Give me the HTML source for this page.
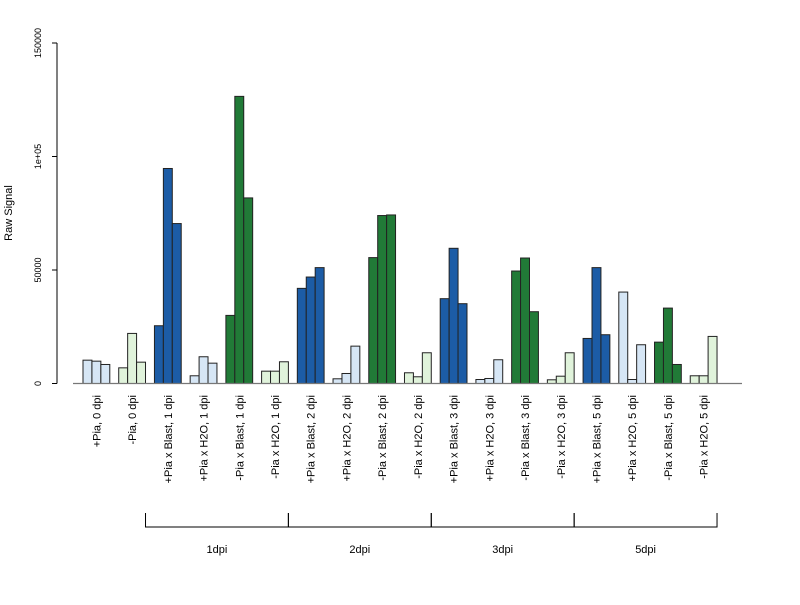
<!DOCTYPE html>
<html><head><meta charset="utf-8"><style>
body{margin:0;background:#fff}
svg{font-family:"Liberation Sans",sans-serif}
</style></head><body>
<svg id="chart" width="800" height="600" xmlns="http://www.w3.org/2000/svg"></svg>
<script>
const categories=["+Pia, 0 dpi","-Pia, 0 dpi","+Pia x Blast, 1 dpi","+Pia x H2O, 1 dpi","-Pia x Blast, 1 dpi","-Pia x H2O, 1 dpi","+Pia x Blast, 2 dpi","+Pia x H2O, 2 dpi","-Pia x Blast, 2 dpi","-Pia x H2O, 2 dpi","+Pia x Blast, 3 dpi","+Pia x H2O, 3 dpi","-Pia x Blast, 3 dpi","-Pia x H2O, 3 dpi","+Pia x Blast, 5 dpi","+Pia x H2O, 5 dpi","-Pia x Blast, 5 dpi","-Pia x H2O, 5 dpi"];
const rep1=[10280,6900,25450,3400,30000,5430,41910,2070,55460,4720,37370,1760,49550,1630,19850,40280,18220,3400];
const rep2=[9840,22060,94720,11780,126490,5430,46900,4410,73990,2960,59560,2210,55280,3220,51050,1760,33220,3400];
const rep3=[8380,9400,70460,8960,81760,9570,51050,16460,74250,13540,35160,10460,31630,13540,21490,17070,8380,20740];
const groupColors=["#d6e6f5","#e0f3db","#1c5ca6","#d6e6f5","#217a37","#e0f3db","#1c5ca6","#d6e6f5","#217a37","#e0f3db","#1c5ca6","#d6e6f5","#217a37","#e0f3db","#1c5ca6","#d6e6f5","#217a37","#e0f3db"];
const yTicks=[0,50000,100000,150000];
const yTickLabels=["0","50000","1e+05","150000"];
const timeGroups=["1dpi","2dpi","3dpi","5dpi"];

const svg=document.getElementById('chart');
const NS="http://www.w3.org/2000/svg";
const Y0=383.5, PXPER=340.5/150000;
const y=v=>Y0-v*PXPER;
const BW=8.93, X0=83;
const xBar=(g,k)=>X0+g*4*BW+k*BW;
function mk(t,a,txt){const e=document.createElementNS(NS,t);for(const k in a)e.setAttribute(k,a[k]);if(txt!==undefined)e.textContent=txt;svg.appendChild(e);return e;}

// y axis
let ax=mk('line',{x1:57,y1:y(0),x2:57,y2:y(150000),stroke:'#000','stroke-width':1});


yTicks.forEach((v,i)=>{
  const t=mk('line',{x1:52,y1:y(v),x2:57,y2:y(v),stroke:'#000'});
  
  
  const l=mk('text',{x:41,y:y(v),'font-size':9,'text-anchor':'middle',transform:`rotate(-90 41 ${y(v)})`},yTickLabels[i]);
  
  
});
const yt=mk('text',{x:12,y:213,'font-size':11,'text-anchor':'middle',transform:'rotate(-90 12 213)'},'Raw Signal');



// bars
const series=[rep1,rep2,rep3];
categories.forEach((c,g)=>{
  series.forEach((s,k)=>{
    const r=mk('rect',{x:xBar(g,k),y:y(s[g]),width:BW,height:Y0-y(s[g]),fill:groupColors[g],stroke:'#222','stroke-width':1});
    
    
  });
  const cx=xBar(g,1.5);
  const l=mk('text',{x:cx+4,y:395,'font-size':11,'text-anchor':'end',transform:`rotate(-90 ${cx+4} 395)`},c);
  
  
});
const xl=mk('line',{x1:73,y1:Y0,x2:742,y2:Y0,stroke:'#777','stroke-width':1.3});



// brackets
timeGroups.forEach((n,i)=>{
  const a=xBar(2+4*i,0)-BW, b=xBar(5+4*i,3);
  const p=mk('path',{d:`M${a} 513V527H${b}V513`,fill:'none',stroke:'#000'});
  
  
  const t=mk('text',{x:(a+b)/2,y:553,'font-size':11,'text-anchor':'middle'},n);
  
  
});
</script>
</body></html>
